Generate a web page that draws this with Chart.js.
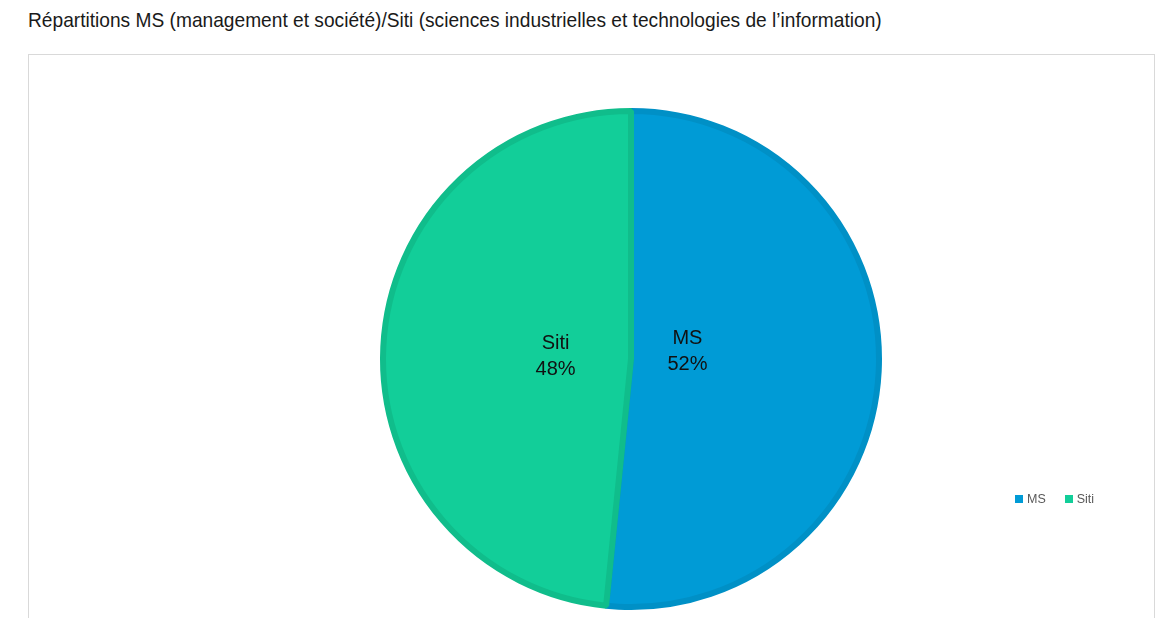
<!DOCTYPE html>
<html>
<head>
<meta charset="utf-8">
<script src="https://cdn.jsdelivr.net/npm/chart.js@4"></script>
<style>
  body { margin: 0; background: #fff; width: 1155px; height: 618px; overflow: hidden; position: relative; }
  #title { position: absolute; left: 28px; top: 8px; font-family: "Liberation Sans", sans-serif; font-size: 21px; color: #1a1a1a; white-space: nowrap; transform: scaleX(0.912); transform-origin: left top; }
  #box { position: absolute; left: 28px; top: 54px; width: 1125px; height: 600px; border: 1px solid #d9d9d9; }
  #wrap { position: absolute; left: 0; top: 0; width: 1155px; height: 618px; }
  #legend { position: absolute; left: 1015px; top: 492px; font-family: "Liberation Sans", sans-serif; font-size: 12.5px; color: #595959; display: flex; gap: 19px; }
  #legend span.sw { display: inline-block; width: 8px; height: 8px; margin-right: 4px; }
</style>
</head>
<body>
<div id="title">Répartitions MS (management et société)/Siti (sciences industrielles et technologies de l’information)</div>
<div id="box"></div>
<div id="wrap"><canvas id="pieChart"></canvas></div>
<div id="legend"></div>
<script>
var categories = ['MS', 'Siti'];
var values = [51.6, 48.4];
var fillColors = ['#009bd6', '#12ce99'];
var borderColors = ['#0090c6', '#10bd8b'];

var total = values.reduce(function (a, b) { return a + b; }, 0);

// labels drawn inside the slices, close to the centre like the original
var sliceLabels = {
    id: 'sliceLabels',
    afterDatasetsDraw: function (chart, args, opts) {
        var ctx = chart.ctx;
        var meta = chart.getDatasetMeta(0);
        ctx.save();
        ctx.font = '20px "Liberation Sans", Arial, sans-serif';
        ctx.fillStyle = '#111';
        ctx.textAlign = 'center';
        ctx.textBaseline = 'middle';
        meta.data.forEach(function (arc, i) {
            var mid = (arc.startAngle + arc.endAngle) / 2;
            var r = arc.outerRadius * 0.26;
            var nudge = opts.nudge[i] || [0, 0];
            var x = arc.x + Math.cos(mid) * r + nudge[0];
            var y = arc.y + Math.sin(mid) * r + nudge[1];
            var pct = Math.round(values[i] / total * 100) + '%';
            ctx.fillText(categories[i], x, y - 13);
            ctx.fillText(pct, x, y + 13);
        });
        ctx.restore();
    }
};

var ctx = document.getElementById('pieChart').getContext('2d');
var myChart = new Chart(ctx, {
    type: 'pie',
    data: {
        labels: categories,
        datasets: [{
            data: values,
            backgroundColor: fillColors,
            borderColor: borderColors,
            borderWidth: 6
        }]
    },
    options: {
        responsive: true,
        maintainAspectRatio: false,
        animation: false,
        layout: { padding: { left: 380, right: 273, top: 108, bottom: 8 } },
        plugins: {
            legend: { display: false },
            tooltip: { enabled: false },
            sliceLabels: { nudge: [[-8, -11], [-11, 1]] }
        }
    },
    plugins: [sliceLabels]
});

var legend = document.getElementById('legend');
categories.forEach(function (c, i) {
    var item = document.createElement('div');
    item.innerHTML = '<span class="sw" style="background:' + fillColors[i] + '"></span>' + c;
    legend.appendChild(item);
});
</script>
</body>
</html>
